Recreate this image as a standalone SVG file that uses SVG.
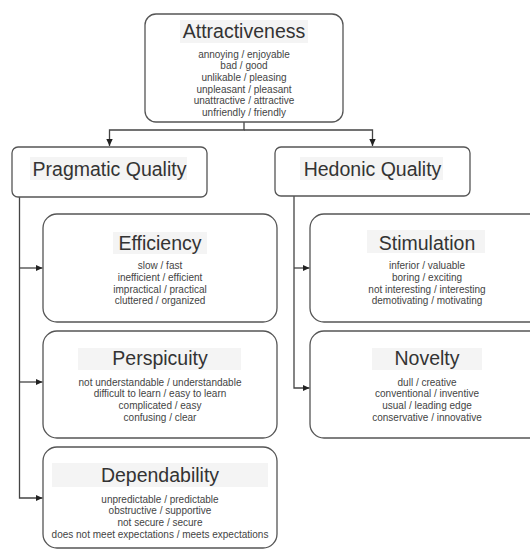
<svg xmlns="http://www.w3.org/2000/svg" width="530" height="550" viewBox="0 0 530 550">
<defs>
<marker id="arr" markerWidth="8" markerHeight="8" refX="7" refY="4" orient="auto" markerUnits="userSpaceOnUse">
<path d="M0,0.8 L7,4 L0,7.2 Z" fill="#222"/>
</marker>
<style>
.box{fill:#fff;stroke:#555;stroke-width:1.3}
.hl{fill:#f4f4f4}
.t{font-family:"Liberation Sans",Arial,sans-serif;font-size:19.5px;fill:#333;text-anchor:middle}
.s{font-family:"Liberation Sans",Arial,sans-serif;font-size:10px;fill:#444;text-anchor:middle}
.c{fill:none;stroke:#444;stroke-width:1.3}
</style>
</defs>
<rect width="530" height="550" fill="#fff"/>
<g id="connectors">
<path class="c" d="M244,122 V130 H109.5 V146" marker-end="url(#arr)"/>
<path class="c" d="M244,130 H372.5 V146" marker-end="url(#arr)"/>
<path class="c" d="M19.5,197 V498 H42.5" marker-end="url(#arr)"/>
<path class="c" d="M19.5,268 H42.5" marker-end="url(#arr)"/>
<path class="c" d="M19.5,382 H42.5" marker-end="url(#arr)"/>
<path class="c" d="M294,196 V388 H309.5" marker-end="url(#arr)"/>
<path class="c" d="M294,268 H309.5" marker-end="url(#arr)"/>
</g>
<g id="attractiveness">
<rect class="box" x="145" y="14" width="198" height="108" rx="11"/>
<rect class="hl" x="180" y="20" width="128" height="23"/>
<text class="t" x="244" y="38">Attractiveness</text>
<text class="s" x="244" y="57.6">annoying / enjoyable</text>
<text class="s" x="244" y="69.3">bad / good</text>
<text class="s" x="244" y="81">unlikable / pleasing</text>
<text class="s" x="244" y="92.6">unpleasant / pleasant</text>
<text class="s" x="244" y="104.3">unattractive / attractive</text>
<text class="s" x="244" y="116">unfriendly / friendly</text>
</g>
<g id="pragmatic">
<rect class="box" x="12" y="147" width="195" height="50" rx="6"/>
<rect class="hl" x="30" y="157" width="157" height="23"/>
<text class="t" x="109.5" y="176">Pragmatic Quality</text>
</g>
<g id="hedonic">
<rect class="box" x="275" y="147" width="195" height="49" rx="6"/>
<rect class="hl" x="300" y="157" width="143" height="23"/>
<text class="t" x="372.5" y="176">Hedonic Quality</text>
</g>
<g id="efficiency">
<rect class="box" x="43" y="214" width="234" height="108" rx="14"/>
<rect class="hl" x="113" y="232" width="94" height="22"/>
<text class="t" x="160" y="250">Efficiency</text>
<text class="s" x="160" y="269.3">slow / fast</text>
<text class="s" x="160" y="281">inefficient / efficient</text>
<text class="s" x="160" y="292.7">impractical / practical</text>
<text class="s" x="160" y="304.4">cluttered / organized</text>
</g>
<g id="perspicuity">
<rect class="box" x="43" y="331" width="234" height="107" rx="14"/>
<rect class="hl" x="78" y="348" width="163" height="22"/>
<text class="t" x="160" y="365">Perspicuity</text>
<text class="s" x="160" y="385.6">not understandable / understandable</text>
<text class="s" x="160" y="397.3">difficult to learn / easy to learn</text>
<text class="s" x="160" y="409">complicated / easy</text>
<text class="s" x="160" y="420.7">confusing / clear</text>
</g>
<g id="dependability">
<rect class="box" x="43" y="447" width="234" height="101" rx="14"/>
<rect class="hl" x="52" y="463" width="216" height="24"/>
<text class="t" x="160" y="482">Dependability</text>
<text class="s" x="160" y="502.6">unpredictable / predictable</text>
<text class="s" x="160" y="514.3">obstructive / supportive</text>
<text class="s" x="160" y="526">not secure / secure</text>
<text class="s" x="160" y="537.7">does not meet expectations / meets expectations</text>
</g>
<g id="stimulation">
<rect class="box" x="310" y="214" width="234" height="108" rx="14"/>
<rect class="hl" x="367" y="230" width="118" height="23"/>
<text class="t" x="427" y="250">Stimulation</text>
<text class="s" x="427" y="269.3">inferior / valuable</text>
<text class="s" x="427" y="281">boring / exciting</text>
<text class="s" x="427" y="292.7">not interesting / interesting</text>
<text class="s" x="427" y="304.4">demotivating / motivating</text>
</g>
<g id="novelty">
<rect class="box" x="310" y="331" width="234" height="107" rx="14"/>
<rect class="hl" x="372" y="348" width="110" height="22"/>
<text class="t" x="427" y="365">Novelty</text>
<text class="s" x="427" y="385.6">dull / creative</text>
<text class="s" x="427" y="397.3">conventional / inventive</text>
<text class="s" x="427" y="409">usual / leading edge</text>
<text class="s" x="427" y="420.7">conservative / innovative</text>
</g>
</svg>
